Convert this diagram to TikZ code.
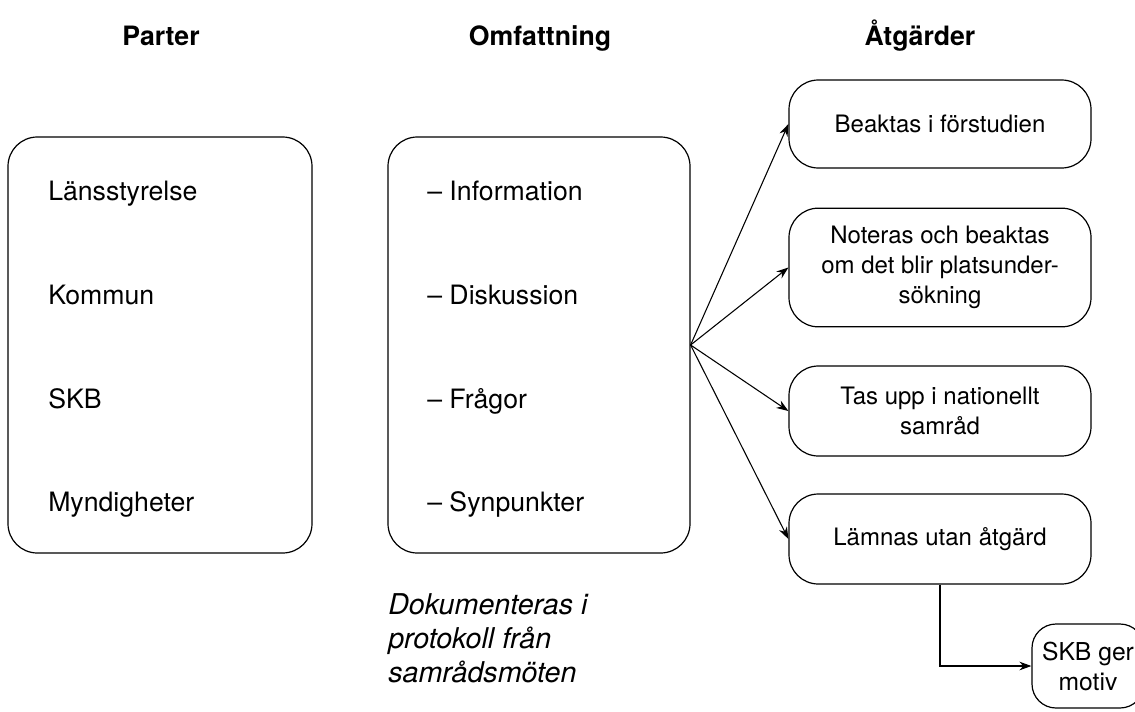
\documentclass[tikz,border=0pt]{standalone}
\usepackage{fontspec}
\setmainfont{TeX Gyre Heros}
\usetikzlibrary{arrows.meta}
\begin{document}
\begin{tikzpicture}[x=0.75pt,y=-0.75pt,
  box/.style={draw, line width=0.9pt, rounded corners=22pt, inner sep=0pt},
  abox/.style={box, minimum width=226.5pt, align=center, font=\fontsize{18}{22.5}\selectfont},
  item/.style={anchor=base west, inner sep=0pt, font=\fontsize{20}{24}\selectfont},
  head/.style={anchor=base, inner sep=0pt, font=\fontsize{20}{24}\selectfont\bfseries},
  conn/.style={line width=0.8pt, -{Stealth[length=9pt,width=6.5pt]}}]
\useasboundingbox (0,0) rectangle (1135,711);
% headers
\node[head] (h1) at (161,45) {Parter};
\node[head] (h2) at (540,45) {Omfattning};
\node[head] (h3) at (920,45) {Åtgärder};
% left box
\node[box, minimum width=228pt, minimum height=312pt] (parter) at (160,345) {};
\node[item] (p1) at (48,200) {Länsstyrelse};
\node[item] (p2) at (48,304) {Kommun};
\node[item] (p3) at (48,408) {SKB};
\node[item] (p4) at (48,511) {Myndigheter};
% middle box
\node[box, minimum width=226.5pt, minimum height=312pt] (omf) at (539,345) {};
\node[item] (o1) at (427,200) {– Information};
\node[item] (o2) at (427,304) {– Diskussion};
\node[item] (o3) at (427,408) {– Frågor};
\node[item] (o4) at (427,511) {– Synpunkter};
% note
\node[anchor=base west, inner sep=0pt, align=left, font=\fontsize{21.5}{25.5}\selectfont\itshape] (doc) at (388,682)
  {Dokumenteras i\\protokoll från\\samrådsmöten};
% right boxes
\node[abox, minimum height=66pt] (b1) at (940,124) {Beaktas i förstudien};
\node[abox, minimum height=89pt] (b2) at (940,267.5) {Noteras och beaktas\\om det blir platsunder-\\sökning};
\node[abox, minimum height=67.5pt] (b3) at (940,411) {Tas upp i nationellt\\samråd};
\node[abox, minimum height=67.5pt] (b4) at (940,539) {Lämnas utan åtgärd};
\node[box, rounded corners=18pt, minimum width=84pt, minimum height=63pt, align=center, font=\fontsize{18.5}{22.5}\selectfont] (skb) at (1088,666) {SKB ger\\motiv};
% connectors
\draw[conn] (omf.east) -- (b1.west);
\draw[conn] (omf.east) -- (b2.west);
\draw[conn] (omf.east) -- (b3.west);
\draw[conn] (omf.east) -- (b4.west);
\draw[conn] (b4.south) |- (skb.west);
\end{tikzpicture}
\end{document}
